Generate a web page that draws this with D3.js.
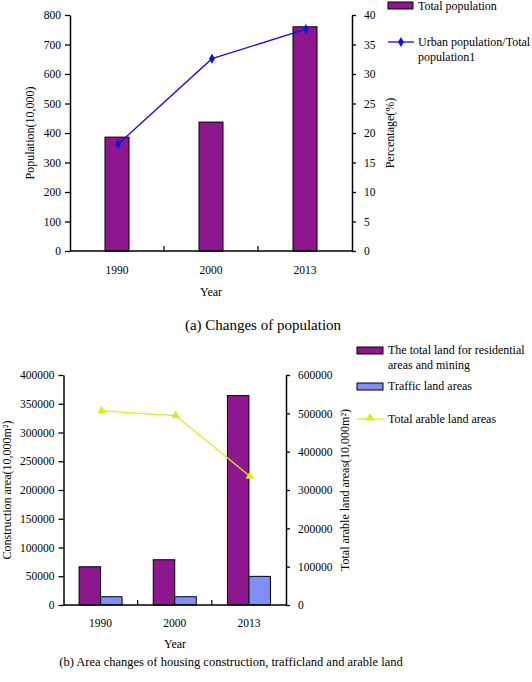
<!DOCTYPE html>
<html><head><meta charset="utf-8">
<script src="https://cdn.jsdelivr.net/npm/d3@7/dist/d3.min.js"></script>
<style>body{margin:0;background:#fff}svg{display:block}svg text{font-family:"Liberation Serif","DejaVu Serif",serif !important;fill:#000}</style>
</head><body>
<svg id="c" width="532" height="682" font-family="Liberation Serif"></svg>
<script>
// Chart (a)
const years = ["1990", "2000", "2013"];
const totalPopulation = [386, 437, 760];
const urbanRatio = [18.1, 32.6, 37.6];
const popTicks = [0,100,200,300,400,500,600,700,800];
const pctTicks = [0,5,10,15,20,25,30,35,40];
// Chart (b)
const residentialMining = [66500, 78700, 364200];
const trafficLand = [14400, 14400, 49800];
const arableLand = [506200, 494200, 336100];
const areaTicks = [0,50000,100000,150000,200000,250000,300000,350000,400000];
const arableTicks = [0,100000,200000,300000,400000,500000,600000];

const svg = d3.select("#c");
const FS = 12, TFS = 11.5;
const fmt = d3.format("d");

function axisStyle(g){
  g.attr("font-family",null).attr("font-size",null);
  g.selectAll("path,line").attr("stroke","#000").attr("stroke-width",1.3);
  g.selectAll("text").style("font-size",TFS+"px");
  g.select(".domain").attr("stroke-width",1.5);
}

// ---------- Chart A ----------
{
  const L=70,R=352,T=15,B=251;
  const x=d3.scaleBand().domain(years).range([L,R]);
  const y=d3.scaleLinear().domain([0,800]).range([B,T]);
  const y2=d3.scaleLinear().domain([0,40]).range([B,T]);
  const bw=24;
  svg.append("g").selectAll("rect").data(totalPopulation).join("rect")
    .attr("x",(d,i)=>x(years[i])+x.bandwidth()/2-bw/2).attr("y",d=>y(d))
    .attr("width",bw).attr("height",d=>B-y(d))
    .attr("fill","#8e168e").attr("stroke","#000").attr("stroke-width",1);
  svg.append("g").attr("transform",`translate(${L},0)`).call(d3.axisLeft(y).tickValues(popTicks).tickFormat(fmt).tickSize(5).tickSizeOuter(0).tickPadding(4)).call(axisStyle);
  svg.append("g").attr("transform",`translate(${R},0)`).call(d3.axisRight(y2).tickValues(pctTicks).tickFormat(fmt).tickSize(4).tickSizeOuter(0).tickPadding(8)).call(axisStyle);
  const gx=svg.append("g").attr("transform",`translate(0,${B})`);
  gx.append("line").attr("x1",L).attr("x2",R).attr("stroke","#000").attr("stroke-width",1.5);
  gx.selectAll("line.t").data(years.slice(1)).join("line").attr("class","t")
    .attr("x1",d=>x(d)).attr("x2",d=>x(d)).attr("y1",0).attr("y2",-5).attr("stroke","#000").attr("stroke-width",1.2);
  gx.selectAll("text").data(years).join("text").attr("x",d=>x(d)+x.bandwidth()/2).attr("y",23)
    .attr("text-anchor","middle").style("font-size",TFS+"px").text(d=>d);
  svg.append("text").attr("x",211).attr("y",296).attr("text-anchor","middle").style("font-size",FS+"px").text("Year");
  svg.append("text").attr("transform",`translate(34,${(T+B)/2}) rotate(-90)`).attr("text-anchor","middle").style("font-size",FS+"px").text("Population(10,000)");
  svg.append("text").attr("transform",`translate(394,${(T+B)/2}) rotate(-90)`).attr("text-anchor","middle").style("font-size",FS+"px").text("Percentage(%)");
  const line=d3.line().x((d,i)=>x(years[i])+x.bandwidth()/2+1).y(d=>y2(d));
  svg.append("path").attr("d",line(urbanRatio)).attr("fill","none").attr("stroke","#1010e0").attr("stroke-width",1.3);
  svg.append("g").selectAll("path").data(urbanRatio).join("path")
    .attr("transform",(d,i)=>`translate(${x(years[i])+x.bandwidth()/2+1},${y2(d)})`)
    .attr("d",d3.symbol(d3.symbolDiamond,30)).attr("fill","#1010e0");
  // legend
  svg.append("rect").attr("x",388).attr("y",2).attr("width",25).attr("height",7).attr("fill","#8e168e").attr("stroke","#000").attr("stroke-width",1);
  svg.append("text").attr("x",418).attr("y",10).style("font-size",FS+"px").text("Total population");
  svg.append("line").attr("x1",388).attr("x2",414).attr("y1",42).attr("y2",42).attr("stroke","#1010e0").attr("stroke-width",1.3);
  svg.append("path").attr("transform","translate(401,42)").attr("d",d3.symbol(d3.symbolDiamond,30)).attr("fill","#1010e0");
  svg.append("text").attr("x",418).attr("y",46).style("font-size",FS+"px").text("Urban population/Total");
  svg.append("text").attr("x",418).attr("y",61).style("font-size",FS+"px").text("population1");
  svg.append("text").attr("x",263).attr("y",330).attr("text-anchor","middle").style("font-size","15px").text("(a) Changes of population");
}

// ---------- Chart B ----------
{
  const L=63.5,R=286,T=375,B=605;
  const x=d3.scaleBand().domain(years).range([L,R]);
  const y=d3.scaleLinear().domain([0,400000]).range([B,T]);
  const y2=d3.scaleLinear().domain([0,600000]).range([B,T]);
  const bw=21.5;
  const g=svg.append("g");
  g.selectAll("rect.r").data(residentialMining).join("rect").attr("class","r")
    .attr("x",(d,i)=>x(years[i])+x.bandwidth()/2-bw).attr("y",d=>y(d)).attr("width",bw).attr("height",d=>B-y(d))
    .attr("fill","#8e168e").attr("stroke","#000").attr("stroke-width",1);
  g.selectAll("rect.t").data(trafficLand).join("rect").attr("class","t")
    .attr("x",(d,i)=>x(years[i])+x.bandwidth()/2).attr("y",d=>y(d)).attr("width",bw).attr("height",d=>B-y(d))
    .attr("fill","#7f8ff7").attr("stroke","#000").attr("stroke-width",1);
  svg.append("g").attr("transform",`translate(${L},0)`).call(d3.axisLeft(y).tickValues(areaTicks).tickFormat(fmt).tickSize(5).tickSizeOuter(0).tickPadding(4)).call(axisStyle);
  svg.append("g").attr("transform",`translate(${R},0)`).call(d3.axisRight(y2).tickValues(arableTicks).tickFormat(fmt).tickSize(4).tickSizeOuter(0).tickPadding(8)).call(axisStyle);
  const gx=svg.append("g").attr("transform",`translate(0,${B})`);
  gx.append("line").attr("x1",L).attr("x2",R).attr("stroke","#000").attr("stroke-width",1.5);
  gx.selectAll("line.t").data(years.slice(1)).join("line").attr("class","t")
    .attr("x1",d=>x(d)).attr("x2",d=>x(d)).attr("y1",0).attr("y2",-5).attr("stroke","#000").attr("stroke-width",1.2);
  gx.selectAll("text").data(years).join("text").attr("x",d=>x(d)+x.bandwidth()/2).attr("y",22)
    .attr("text-anchor","middle").style("font-size",TFS+"px").text(d=>d);
  svg.append("text").attr("x",175).attr("y",648).attr("text-anchor","middle").style("font-size",FS+"px").text("Year");
  svg.append("text").attr("transform",`translate(11,${(T+B)/2}) rotate(-90)`).attr("text-anchor","middle").style("font-size",FS+"px").text("Construction area(10,000m²)");
  svg.append("text").attr("transform",`translate(349,${(T+B)/2}) rotate(-90)`).attr("text-anchor","middle").style("font-size",FS+"px").text("Total arable land areas(10,000m²)");
  const line=d3.line().x((d,i)=>x(years[i])+x.bandwidth()/2+1).y(d=>y2(d));
  svg.append("path").attr("d",line(arableLand)).attr("fill","none").attr("stroke","#d4f01c").attr("stroke-width",1.3);
  svg.append("g").selectAll("path").data(arableLand).join("path")
    .attr("transform",(d,i)=>`translate(${x(years[i])+x.bandwidth()/2+1},${y2(d)})`)
    .attr("d",d3.symbol(d3.symbolTriangle,34)).attr("fill","#d4f01c");
  // legend
  svg.append("rect").attr("x",357).attr("y",347).attr("width",26).attr("height",7).attr("fill","#8e168e").attr("stroke","#000").attr("stroke-width",1);
  svg.append("text").attr("x",388).attr("y",354).style("font-size",FS+"px").text("The total land for residential");
  svg.append("text").attr("x",388).attr("y",369).style("font-size",FS+"px").text("areas and mining");
  svg.append("rect").attr("x",357).attr("y",383).attr("width",26).attr("height",7).attr("fill","#7f8ff7").attr("stroke","#000").attr("stroke-width",1);
  svg.append("text").attr("x",388).attr("y",390).style("font-size",FS+"px").text("Traffic land areas");
  svg.append("line").attr("x1",357).attr("x2",384).attr("y1",419).attr("y2",419).attr("stroke","#d4f01c").attr("stroke-width",1.3);
  svg.append("path").attr("transform","translate(370,418)").attr("d",d3.symbol(d3.symbolTriangle,34)).attr("fill","#d4f01c");
  svg.append("text").attr("x",388).attr("y",423).style("font-size",FS+"px").text("Total arable land areas");
  svg.append("text").attr("x",231).attr("y",666).attr("text-anchor","middle").style("font-size","12.5px").text("(b) Area changes of housing construction, trafficland and arable land");
}
</script>
</body></html>
